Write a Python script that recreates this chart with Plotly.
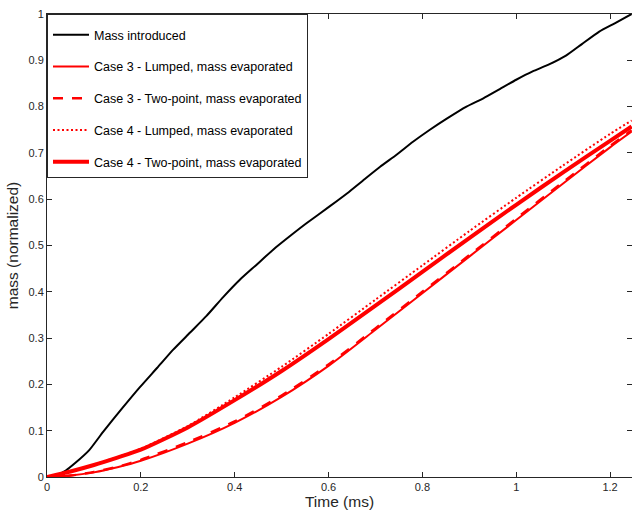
import plotly.graph_objects as go

# ---- data ----
t_intro = [0, 0.02, 0.04, 0.06, 0.09, 0.12, 0.16, 0.198, 0.235, 0.269, 0.305, 0.340, 0.375,
           0.411, 0.445, 0.482, 0.52, 0.553, 0.603, 0.64, 0.673, 0.71, 0.745, 0.78, 0.816,
           0.852, 0.894, 0.93, 0.965, 1.0, 1.035, 1.07, 1.106, 1.14, 1.177, 1.21, 1.246]
m_intro = [0, 0.004, 0.014, 0.030, 0.058, 0.098, 0.148, 0.194, 0.236, 0.275, 0.312, 0.348, 0.388,
           0.426, 0.457, 0.491, 0.522, 0.548, 0.585, 0.613, 0.640, 0.670, 0.696, 0.724, 0.750,
           0.774, 0.800, 0.818, 0.838, 0.858, 0.876, 0.891, 0.910, 0.935, 0.962, 0.980, 1.0]

t_evap = [0, 0.05, 0.1, 0.15, 0.2, 0.3, 0.4, 0.5, 0.6, 0.7, 0.8, 0.9, 1.0, 1.1, 1.2, 1.246]
case3_lumped = [0, 0.003, 0.010, 0.021, 0.035, 0.072, 0.117, 0.173, 0.240, 0.318, 0.397, 0.476,
                0.555, 0.634, 0.712, 0.746]
case3_twopoint = [0, 0.003, 0.011, 0.022, 0.037, 0.075, 0.120, 0.176, 0.243, 0.321, 0.400, 0.479,
                  0.558, 0.637, 0.715, 0.749]
case4_lumped = [0, 0.012, 0.027, 0.043, 0.061, 0.110, 0.172, 0.238, 0.309, 0.383, 0.457, 0.531,
                0.603, 0.673, 0.741, 0.770]
case4_twopoint = [0, 0.012, 0.026, 0.042, 0.059, 0.107, 0.166, 0.229, 0.298, 0.370, 0.443, 0.516,
                  0.588, 0.658, 0.726, 0.757]

x_ticks = [0, 0.2, 0.4, 0.6, 0.8, 1.0, 1.2]
x_tick_labels = ["0", "0.2", "0.4", "0.6", "0.8", "1", "1.2"]
y_ticks = [0, 0.1, 0.2, 0.3, 0.4, 0.5, 0.6, 0.7, 0.8, 0.9, 1.0]
y_tick_labels = ["0", "0.1", "0.2", "0.3", "0.4", "0.5", "0.6", "0.7", "0.8", "0.9", "1"]

FONT = "Liberation Sans, Arial, Helvetica, sans-serif"
AX = "#262626"
RED = "#ff0000"

fig = go.Figure()
fig.add_trace(go.Scatter(x=t_intro, y=m_intro, mode="lines", name="Mass introduced",
                         line=dict(color="#000000", width=2, shape="spline", smoothing=0.5),
                         legendgroup="a"))
fig.add_trace(go.Scatter(x=t_evap, y=case3_lumped, mode="lines",
                         name="Case 3 - Lumped, mass evaporated",
                         line=dict(color=RED, width=2, shape="spline", smoothing=0.6),
                         legendgroup="b"))
fig.add_trace(go.Scatter(x=t_evap, y=case3_twopoint, mode="lines",
                         name="Case 3 - Two-point, mass evaporated",
                         line=dict(color=RED, width=2.5, dash="10px,9px", shape="spline",
                                   smoothing=0.6),
                         legendgroup="c"))
fig.add_trace(go.Scatter(x=t_evap, y=case4_lumped, mode="lines",
                         name="Case 4 - Lumped, mass evaporated",
                         line=dict(color=RED, width=2, dash="2px,2.5px", shape="spline",
                                   smoothing=0.6),
                         legendgroup="d"))
fig.add_trace(go.Scatter(x=t_evap, y=case4_twopoint, mode="lines",
                         name="Case 4 - Two-point, mass evaporated",
                         line=dict(color=RED, width=4, shape="spline", smoothing=0.6),
                         legendgroup="e"))

fig.update_layout(
    width=632, height=512,
    margin=dict(l=47, r=0, t=14, b=35),
    paper_bgcolor="white", plot_bgcolor="white",
    font=dict(family=FONT, color=AX, size=11),
    legend=dict(
        x=0, y=1, xanchor="left", yanchor="top",
        bgcolor="white", bordercolor="#262626", borderwidth=1,
        font=dict(family=FONT, size=12.5, color="#000000"),
        traceorder="grouped", tracegroupgap=12.5, itemwidth=36,
        title=dict(text=" ", font=dict(size=4)),
    ),
    xaxis=dict(
        range=[0, 1.2468], tickvals=x_ticks, ticktext=x_tick_labels,
        ticks="inside", ticklen=5, tickcolor=AX, tickwidth=1,
        showline=True, linecolor=AX, linewidth=1, mirror="ticks",
        showgrid=False, zeroline=False,
        tickfont=dict(size=11, color=AX),
        title=dict(text="Time (ms)", font=dict(size=15.5, color=AX), standoff=2),
    ),
    yaxis=dict(
        range=[0, 1], tickvals=y_ticks, ticktext=y_tick_labels,
        ticks="inside", ticklen=5, tickcolor=AX, tickwidth=1,
        showline=True, linecolor=AX, linewidth=1, mirror="ticks",
        showgrid=False, zeroline=False,
        tickfont=dict(size=11, color=AX),
        title=dict(text="mass (normalized)", font=dict(size=15.5, color=AX), standoff=6),
    ),
)

fig.write_html("out.html")
